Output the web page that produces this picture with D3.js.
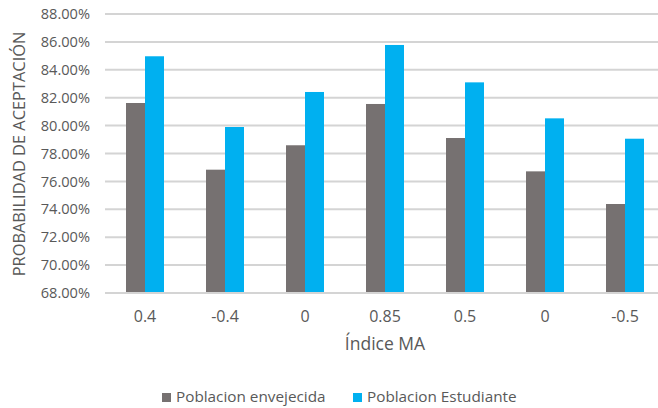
<!DOCTYPE html>
<html>
<head>
<meta charset="utf-8">
<script src="https://cdn.jsdelivr.net/npm/d3@7"></script>
<style>
  html, body { margin: 0; padding: 0; background: #fff; }
  svg { display: block; font-family: "Open Sans", "Noto Sans", sans-serif; }
</style>
</head>
<body>
<svg id="chart" width="658" height="408"></svg>
<script>
// Índice MA categories (two of them share the label "0")
const categories = ["0.4", "-0.4", "0", "0.85", "0.5", "0", "-0.5"];
// Probabilidad de aceptación (%) per population
const envejecida = [81.62, 76.84, 78.59, 81.55, 79.11, 76.72, 74.38];
const estudiante = [84.97, 79.90, 82.41, 85.78, 83.10, 80.52, 79.06];
const yTicks = [68, 70, 72, 74, 76, 78, 80, 82, 84, 86, 88];
const seriesNames = ["Poblacion envejecida", "Poblacion Estudiante"];
const seriesColors = ["#767171", "#00B0F0"];

const svg = d3.select("#chart");
const textColor = "#595959";
const gridColor = "#d4d4d4";

const plot = { left: 105, right: 665, top: 14, bottom: 293 };

const x = d3.scaleBand()
  .domain(d3.range(categories.length))
  .range([plot.left, plot.right])
  .paddingInner(0.525)
  .paddingOuter(0.2625);

const xInner = d3.scaleBand()
  .domain([0, 1])
  .range([0, x.bandwidth()]);

const y = d3.scaleLinear()
  .domain([68, 88])
  .range([plot.bottom, plot.top]);

// horizontal gridlines
svg.append("g")
  .selectAll("line")
  .data(yTicks.slice(1))
  .join("line")
  .attr("x1", plot.left)
  .attr("x2", plot.right)
  .attr("y1", d => y(d))
  .attr("y2", d => y(d))
  .attr("stroke", gridColor)
  .attr("stroke-width", 2);

// y axis labels
const yAxis = d3.axisLeft(y)
  .tickValues(yTicks)
  .tickFormat(d => d.toFixed(2) + "%")
  .tickSize(0)
  .tickPadding(0);

svg.append("g")
  .attr("transform", `translate(90,0)`)
  .call(yAxis)
  .call(g => g.select(".domain").remove())
  .call(g => g.selectAll("text")
    .attr("fill", textColor)
    .attr("font-size", 14.6)
    .attr("font-family", "Open Sans"));

// bars
const series = [envejecida, estudiante];
const groups = svg.append("g")
  .selectAll("g")
  .data(categories.map((c, i) => i))
  .join("g")
  .attr("transform", i => `translate(${x(i)},0)`);

groups.selectAll("rect")
  .data(i => series.map((s, k) => ({ k, v: s[i] })))
  .join("rect")
  .attr("x", d => xInner(d.k))
  .attr("width", xInner.bandwidth())
  .attr("y", d => y(d.v))
  .attr("height", d => y(68) - y(d.v))
  .attr("fill", d => seriesColors[d.k]);

// x axis
const xAxis = d3.axisBottom(x)
  .tickFormat(i => categories[i])
  .tickSize(0)
  .tickPadding(0);

const gx = svg.append("g")
  .attr("transform", `translate(0,${plot.bottom})`)
  .call(xAxis);
gx.select(".domain").remove();
gx.selectAll("text")
  .attr("fill", textColor)
  .attr("font-size", 16)
  .attr("font-family", "Open Sans")
  .attr("dy", null)
  .attr("y", 29);

svg.append("line")
  .attr("x1", plot.left)
  .attr("x2", plot.right)
  .attr("y1", plot.bottom)
  .attr("y2", plot.bottom)
  .attr("stroke", gridColor)
  .attr("stroke-width", 2);

// axis titles
svg.append("text")
  .attr("x", 385)
  .attr("y", 350)
  .attr("text-anchor", "middle")
  .attr("fill", textColor)
  .attr("font-size", 17.5)
  .text("Índice MA");

svg.append("text")
  .attr("transform", `translate(25,154) rotate(-90)`)
  .attr("text-anchor", "middle")
  .attr("fill", textColor)
  .attr("font-size", 16.4)
  .text("PROBABILIDAD DE ACEPTACIÓN");

// legend
const legendX = [162, 353];
const legend = svg.append("g")
  .selectAll("g")
  .data(seriesNames)
  .join("g")
  .attr("transform", (d, i) => `translate(${legendX[i]},0)`);

legend.append("rect")
  .attr("x", 0)
  .attr("y", 393)
  .attr("width", 9)
  .attr("height", 9)
  .attr("fill", (d, i) => seriesColors[i]);

legend.append("text")
  .attr("x", 14)
  .attr("y", 401.5)
  .attr("fill", textColor)
  .attr("font-size", 15.3)
  .text(d => d);
</script>
</body>
</html>
